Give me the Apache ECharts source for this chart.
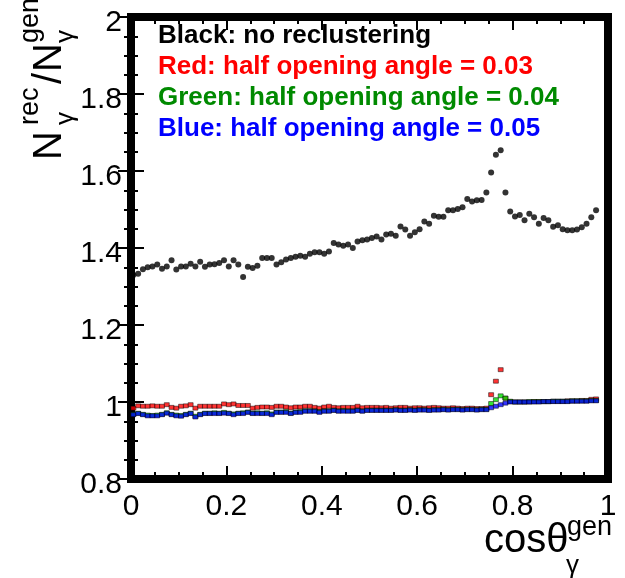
<!DOCTYPE html>
<html><head><meta charset="utf-8">
<script src="https://cdn.jsdelivr.net/npm/echarts@6/dist/echarts.min.js"></script>
<style>html,body{margin:0;padding:0;background:#fff}#c{width:625px;height:578px}</style>
</head><body><div id="c"></div>
<script>
// histogram binning: 100 bins on [0,1]
const binLow = 0, binWidth = 0.01;

// Black: no reclustering
const blackRatio = [
 1.330,1.333,1.345,1.350,1.352,1.357,1.346,1.352,1.368,1.344,
 1.352,1.352,1.359,1.352,1.364,1.351,1.357,1.358,1.361,1.368,
 1.352,1.368,1.357,1.325,1.351,1.348,1.354,1.374,1.374,1.374,
 1.357,1.363,1.370,1.374,1.377,1.380,1.377,1.385,1.389,1.389,
 1.385,1.391,1.413,1.409,1.406,1.409,1.400,1.417,1.420,1.422,
 1.426,1.430,1.422,1.435,1.437,1.432,1.456,1.448,1.432,1.441,
 1.449,1.469,1.463,1.484,1.481,1.481,1.498,1.498,1.501,1.506,
 1.527,1.521,1.524,1.525,1.544,1.596,1.642,1.654,1.544,1.495,
 1.482,1.486,1.472,1.489,1.480,1.463,1.478,1.472,1.455,1.459,
 1.449,1.446,1.446,1.448,1.454,1.463,1.480,1.498
];
// Red: half opening angle = 0.03
const redRatio = [
 0.984,0.990,0.989,0.989,0.990,0.989,0.989,0.993,0.986,0.984,
 0.989,0.990,0.993,0.984,0.989,0.989,0.989,0.989,0.989,0.995,
 0.993,0.995,0.991,0.991,0.991,0.984,0.986,0.987,0.987,0.986,
 0.989,0.989,0.987,0.985,0.987,0.987,0.989,0.989,0.986,0.984,
 0.987,0.989,0.986,0.985,0.986,0.986,0.986,0.989,0.985,0.986,
 0.986,0.986,0.985,0.986,0.984,0.985,0.986,0.986,0.984,0.985,
 0.985,0.984,0.985,0.986,0.985,0.984,0.984,0.985,0.984,0.983,
 0.984,0.984,0.983,0.983,0.984,1.019,1.054,1.084,1.010,1.001,
 1.000,1.000,1.000,1.000,1.001,1.001,1.001,1.001,1.002,1.002,
 1.002,1.003,1.003,1.003,1.004,1.004,1.007,1.008
];
// Green: half opening angle = 0.04
const greenRatio = [
 0.968,0.971,0.968,0.966,0.965,0.966,0.968,0.972,0.968,0.966,
 0.965,0.968,0.971,0.963,0.968,0.971,0.971,0.972,0.971,0.973,
 0.971,0.969,0.971,0.972,0.974,0.971,0.972,0.971,0.972,0.969,
 0.974,0.974,0.975,0.971,0.974,0.975,0.977,0.977,0.977,0.975,
 0.977,0.977,0.979,0.977,0.978,0.977,0.977,0.979,0.977,0.979,
 0.979,0.979,0.979,0.979,0.979,0.980,0.979,0.979,0.980,0.979,
 0.980,0.980,0.979,0.980,0.980,0.981,0.980,0.981,0.981,0.980,
 0.981,0.981,0.980,0.981,0.981,0.996,1.006,1.016,1.010,1.002,
 1.000,1.000,1.000,1.001,1.001,1.001,1.001,1.001,1.002,1.002,
 1.002,1.002,1.003,1.003,1.003,1.003,1.004,1.004
];
// Blue: half opening angle = 0.05
const blueRatio = [
 0.967,0.970,0.967,0.964,0.964,0.964,0.967,0.971,0.967,0.964,
 0.963,0.967,0.970,0.961,0.967,0.970,0.970,0.970,0.970,0.971,
 0.970,0.967,0.970,0.970,0.973,0.970,0.970,0.970,0.970,0.967,
 0.973,0.973,0.973,0.970,0.973,0.973,0.976,0.976,0.976,0.973,
 0.976,0.976,0.978,0.976,0.976,0.976,0.976,0.978,0.976,0.978,
 0.978,0.978,0.978,0.978,0.978,0.979,0.978,0.978,0.979,0.978,
 0.979,0.979,0.978,0.979,0.979,0.980,0.979,0.980,0.980,0.979,
 0.980,0.980,0.979,0.980,0.980,0.985,0.989,0.993,0.997,1.000,
 1.000,1.000,1.000,1.000,1.000,1.000,1.001,1.001,1.001,1.001,
 1.001,1.001,1.002,1.002,1.002,1.002,1.003,1.003
];

const xRange = [0, 1], xStep = 0.2;
const yRange = [0.8, 2], yStep = 0.2;
const legendTexts = [
  'Black: no reclustering',
  'Red: half opening angle = 0.03',
  'Green: half opening angle = 0.04',
  'Blue: half opening angle = 0.05'
];
const legendColors = ['#000000', '#ff0000', '#008a00', '#0000ff'];

const FONT = '"Liberation Sans", Arial, Helvetica, sans-serif';
const toPts = arr => arr.map((v, i) => [binLow + (i + 0.5) * binWidth, v]);
const fmt = v => String(Math.round(v * 10) / 10);

const tickCommon = {
  axisLine: { show: false },
  axisTick: { show: true, inside: true, length: 13, lineStyle: { color: '#000', width: 2 } },
  minorTick: { show: true, splitNumber: 4, length: 7, lineStyle: { color: '#000', width: 2 } },
  splitLine: { show: false }
};

const chart = echarts.init(document.getElementById('c'), null, { renderer: 'canvas' });
chart.setOption({
  animation: false,
  backgroundColor: '#fff',
  grid: { left: 131, right: 17, top: 17, bottom: 99, show: true, borderColor: '#000', borderWidth: 8, backgroundColor: 'transparent' },
  xAxis: [
    Object.assign({ type: 'value', position: 'bottom', min: xRange[0], max: xRange[1], interval: xStep,
      axisLabel: { show: true, margin: 13, fontSize: 30, fontFamily: FONT, color: '#000', formatter: fmt, showMinLabel: true, showMaxLabel: true, hideOverlap: false } }, tickCommon),
    Object.assign({ type: 'value', position: 'top', min: xRange[0], max: xRange[1], interval: xStep, axisLabel: { show: false } }, tickCommon)
  ],
  yAxis: [
    Object.assign({ type: 'value', position: 'left', min: yRange[0], max: yRange[1], interval: yStep,
      axisLabel: { show: true, margin: 9, color: '#000', formatter: v => '{a|' + fmt(v) + '}',
        rich: { a: { fontSize: 30, fontFamily: FONT, color: '#000', padding: [12, 0, 0, 0] } },
        showMinLabel: true, showMaxLabel: true, hideOverlap: false } }, tickCommon),
    Object.assign({ type: 'value', position: 'right', min: yRange[0], max: yRange[1], interval: yStep, axisLabel: { show: false } }, tickCommon)
  ],
  series: [
    { type: 'scatter', name: 'black', data: toPts(blackRatio), symbol: 'circle', symbolSize: 6, itemStyle: { color: '#000' }, z: 3 },
    { type: 'scatter', name: 'red', data: toPts(redRatio), symbol: 'rect', symbolSize: [5, 4], itemStyle: { color: '#ff0000', borderColor: '#000', borderWidth: 0.6 }, z: 3 },
    { type: 'scatter', name: 'green', data: toPts(greenRatio), symbol: 'rect', symbolSize: [5, 4], itemStyle: { color: '#00dd00', borderColor: '#000', borderWidth: 0.6 }, z: 3 },
    { type: 'scatter', name: 'blue', data: toPts(blueRatio), symbol: 'rect', symbolSize: [5, 4], itemStyle: { color: '#0000ff', borderColor: '#000', borderWidth: 0.6 }, z: 3 }
  ],
  graphic: [
    ...legendTexts.map((t, i) => ({
      type: 'text', left: 158, top: 23 + i * 31, z: 10,
      style: { text: t, fill: legendColors[i], font: 'bold 26px ' + FONT }
    })),
    // x-axis title: cos theta_gamma^gen
    { type: 'text', z: 10, style: { text: 'cosθ', x: 484, y: 561, fill: '#000', font: '40px ' + FONT, verticalAlign: 'bottom' } },
    { type: 'text', z: 10, style: { text: 'gen', x: 567, y: 541, fill: '#000', font: '27px ' + FONT, verticalAlign: 'bottom' } },
    { type: 'text', z: 10, style: { text: 'γ', x: 566, y: 579, fill: '#000', font: '26px ' + FONT, verticalAlign: 'bottom' } },
    // y-axis title: N_gamma^rec / N_gamma^gen (rotated)
    { type: 'group', x: 70, y: 162, rotation: Math.PI / 2, z: 10, children: [
      { type: 'text', style: { text: 'N', x: 2, y: 0, fill: '#000', font: '40px ' + FONT, verticalAlign: 'bottom' } },
      { type: 'text', style: { text: 'rec', x: 37, y: -26, fill: '#000', font: '27px ' + FONT, verticalAlign: 'bottom' } },
      { type: 'text', style: { text: 'γ', x: 37, y: 9, fill: '#000', font: '26px ' + FONT, verticalAlign: 'bottom' } },
      { type: 'text', style: { text: '/', x: 78, y: 0, fill: '#000', font: '40px ' + FONT, verticalAlign: 'bottom' } },
      { type: 'text', style: { text: 'N', x: 90, y: 0, fill: '#000', font: '40px ' + FONT, verticalAlign: 'bottom' } },
      { type: 'text', style: { text: 'gen', x: 119, y: -26, fill: '#000', font: '27px ' + FONT, verticalAlign: 'bottom' } },
      { type: 'text', style: { text: 'γ', x: 119, y: 9, fill: '#000', font: '26px ' + FONT, verticalAlign: 'bottom' } }
    ] }
  ]
});
</script></body></html>
